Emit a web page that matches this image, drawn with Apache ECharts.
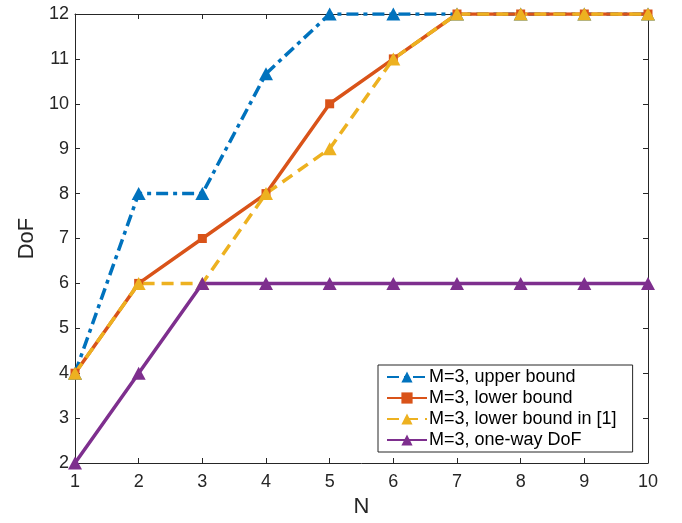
<!DOCTYPE html>
<html>
<head>
<meta charset="utf-8">
<script src="https://cdn.jsdelivr.net/npm/echarts@6/dist/echarts.min.js"></script>
<style>
  html, body { margin: 0; padding: 0; background: #fff; }
  #chart { width: 682px; height: 523px; }
</style>
</head>
<body>
<div id="chart"></div>
<script>
// values
const nValues = [1, 2, 3, 4, 5, 6, 7, 8, 9, 10];
const upperBound = [4, 8, 8, 10.67, 12, 12, 12, 12, 12, 12];
const lowerBound = [4, 6, 7, 8, 10, 11, 12, 12, 12, 12];
const lowerBoundRef = [4, 6, 6, 8, 9, 11, 12, 12, 12, 12];
const oneWayDof = [2, 4, 6, 6, 6, 6, 6, 6, 6, 6];

const seriesNames = [
  'M=3, upper bound',
  'M=3, lower bound',
  'M=3, lower bound in [1]',
  'M=3, one-way DoF'
];

const font = '"Liberation Sans", Arial, sans-serif';
const axisCol = '#262626';

const pairs = (ys) => nValues.map((x, i) => [x, ys[i]]);

const chart = echarts.init(document.getElementById('chart'));

// axis shared bits, MATLAB style box with inward ticks
const baseAxis = {
  type: 'value',
  axisLine: { show: true, lineStyle: { color: axisCol, width: 1 } },
  axisTick: { show: true, inside: true, length: 5, lineStyle: { color: axisCol } },
  splitLine: { show: false }
};

chart.setOption({
  animation: false,
  grid: { left: 75, right: 34, top: 14, bottom: 59 },
  xAxis: [
    Object.assign({}, baseAxis, {
      min: 1, max: 10, interval: 1,
      name: 'N', nameLocation: 'middle', nameGap: 33,
      nameTextStyle: { fontFamily: font, fontSize: 22, color: axisCol },
      axisLabel: { fontFamily: font, fontSize: 18, color: axisCol, margin: 10 }
    }),
    Object.assign({}, baseAxis, {
      position: 'top', min: 1, max: 10, interval: 1,
      axisLabel: { show: false }
    })
  ],
  yAxis: [
    Object.assign({}, baseAxis, {
      min: 2, max: 12, interval: 1,
      name: 'DoF', nameLocation: 'middle', nameGap: 37,
      nameTextStyle: { fontFamily: font, fontSize: 22, color: axisCol },
      axisLabel: { fontFamily: font, fontSize: 18, color: axisCol, margin: 6 }
    }),
    Object.assign({}, baseAxis, {
      position: 'right', min: 2, max: 12, interval: 1,
      axisLabel: { show: false }
    })
  ],
  legend: {
    orient: 'vertical',
    left: 378, top: 365,
    padding: [3, 16, 3, 8],
    itemGap: 3,
    itemWidth: 40, itemHeight: 14,
    backgroundColor: '#fff',
    borderColor: axisCol, borderWidth: 1,
    textStyle: { fontFamily: font, fontSize: 18, color: '#000', padding: [0, 0, 0, -3] },
    data: seriesNames
  },
  series: [
    {
      name: seriesNames[0], type: 'line', data: pairs(upperBound),
      color: '#0072BD',
      lineStyle: { width: 3.5, type: [12, 5, 4, 5] },
      symbol: 'triangle', symbolSize: [14, 13]
    },
    {
      name: seriesNames[1], type: 'line', data: pairs(lowerBound),
      color: '#D95319',
      lineStyle: { width: 3.5 },
      symbol: 'rect', symbolSize: 9
    },
    {
      name: seriesNames[2], type: 'line', data: pairs(lowerBoundRef),
      color: '#EDB120',
      lineStyle: { width: 3.5, type: [12, 7] },
      symbol: 'triangle', symbolSize: [14, 13]
    },
    {
      name: seriesNames[3], type: 'line', data: pairs(oneWayDof),
      color: '#7E2F8E',
      lineStyle: { width: 3.5 },
      symbol: 'triangle', symbolSize: [14, 13]
    }
  ]
});
</script>
</body>
</html>
